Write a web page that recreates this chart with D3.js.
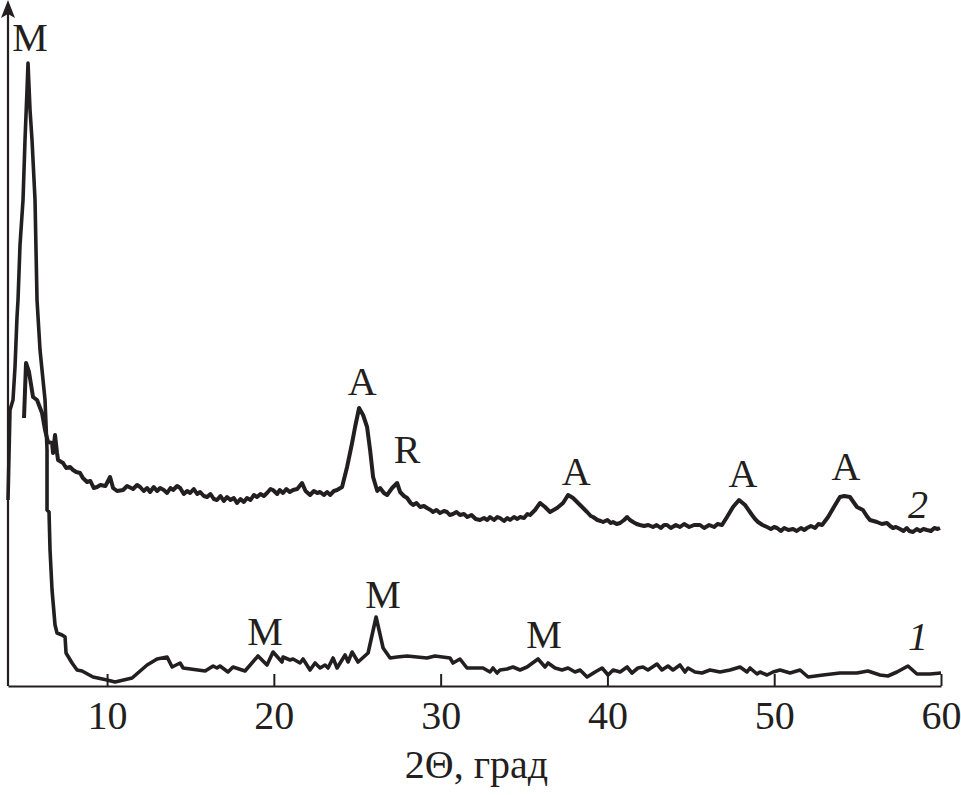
<!DOCTYPE html>
<html><head><meta charset="utf-8">
<script src="https://cdn.jsdelivr.net/npm/d3@7"></script>
<style>
html,body{margin:0;padding:0;background:#fff;}
svg{display:block;}
text{font-family:"Liberation Serif","Times New Roman",serif;fill:#231f20;}
</style></head>
<body>
<svg id="chart" width="961" height="795"></svg>
<script>
// 2Θ (degrees) for curve 1
const theta1 = [4.06,4.18,4.36,4.48,4.60,4.66,4.78,4.96,5.08,5.20,5.26,5.38,5.50,5.68,5.80,5.98,6.28,6.40,6.40,6.52,6.58,6.70,6.88,7.00,7.30,7.48,7.54,7.90,8.20,8.50,9.16,10.00,10.48,11.50,12.40,13.00,13.60,13.90,14.38,14.56,15.88,16.36,16.59,16.77,17.25,17.55,18.27,19.05,19.59,19.95,20.49,20.55,20.97,21.15,21.57,21.75,22.17,22.47,22.77,23.07,23.25,23.55,23.79,24.27,24.45,24.69,25.05,25.65,26.13,26.55,26.97,27.39,27.99,28.59,29.18,29.66,30.56,30.74,31.16,31.58,32.54,32.96,33.14,33.38,33.56,33.98,34.34,34.76,35.18,35.84,36.26,36.44,36.86,37.28,37.64,38.06,38.36,38.78,39.26,39.68,40.04,40.34,40.76,41.18,41.47,41.83,42.13,42.43,42.97,43.27,43.63,43.93,44.35,44.65,44.83,45.25,45.67,46.15,46.75,47.35,47.95,48.37,48.55,48.97,49.15,49.57,49.93,50.35,50.95,51.55,52.03,52.93,53.94,54.96,55.62,56.34,56.82,57.36,58.02,58.56,59.34,60.00];
// intensity (a.u.) for curve 1
const intensity1 = [186,276,286,319,369,386,441,486,546,596,623,576,546,486,386,336,286,236,176,174,136,96,61,53,51,49,33,23,16,15,9,6,4,8,21,27,29,19,23,18,15,20,18,20,14,19,15,30,21,34,24,29,26,27,23,27,16,23,18,21,18,28,18,31,24,34,24,33,69,38,28,29,30,29,28,30,28,23,27,18,18,14,18,13,16,17,19,16,19,27,19,23,18,16,18,14,16,9,14,18,11,16,14,19,13,18,19,16,22,16,20,16,21,14,18,14,13,16,14,16,19,14,18,12,14,11,14,16,13,16,9,11,13,13,15,11,10,14,20,12,12,13];
// 2Θ (degrees) for curve 2
const theta2 = [5.02,5.14,5.32,5.56,5.80,6.10,6.28,6.46,6.70,6.76,6.88,7.00,7.06,7.36,7.55,7.78,7.96,8.15,8.38,8.55,8.80,9.00,9.20,9.40,9.60,9.90,10.18,10.36,10.60,10.96,11.20,11.56,11.80,11.98,12.20,12.40,12.58,12.80,13.00,13.18,13.40,13.60,13.80,13.96,14.20,14.38,14.60,14.80,14.98,15.20,15.40,15.58,15.80,16.00,16.20,16.40,16.59,16.80,17.00,17.19,17.40,17.60,17.79,18.00,18.20,18.39,18.60,18.80,18.99,19.20,19.40,19.59,19.80,19.95,20.20,20.35,20.55,20.75,20.95,21.15,21.40,21.69,21.90,22.17,22.40,22.60,22.77,23.00,23.20,23.37,23.60,23.79,24.09,24.39,24.69,24.87,25.11,25.35,25.59,25.77,25.95,26.20,26.37,26.60,26.79,27.09,27.39,27.57,27.80,27.99,28.20,28.35,28.55,28.77,29.00,29.18,29.40,29.54,29.75,29.96,30.20,30.38,30.55,30.74,30.95,31.16,31.40,31.60,31.85,32.10,32.36,32.60,32.80,32.96,33.20,33.40,33.56,33.80,34.00,34.16,34.40,34.60,34.76,35.00,35.20,35.36,35.66,35.96,36.26,36.56,36.98,37.34,37.64,37.94,38.36,38.60,38.78,39.00,39.14,39.40,39.60,39.74,40.00,40.20,40.34,40.55,40.76,41.00,41.18,41.35,41.54,41.75,41.95,42.20,42.45,42.73,42.95,43.20,43.40,43.57,43.80,44.10,44.35,44.60,44.90,45.20,45.55,45.80,46.10,46.40,46.60,46.87,47.17,47.53,47.89,48.25,48.67,48.85,49.03,49.30,49.57,49.80,50.00,50.17,50.40,50.60,50.85,51.13,51.35,51.60,51.80,51.97,52.20,52.45,52.65,52.87,53.23,53.65,53.94,54.20,54.54,54.96,55.32,55.55,55.74,55.95,56.16,56.45,56.76,56.95,57.12,57.30,57.54,57.75,57.95,58.10,58.32,58.55,58.75,58.95,59.16,59.40,59.60,59.80,59.94];
// intensity (a.u.) for curve 2
const intensity2 = [268,323,314,289,286,273,256,244,243,233,251,233,226,223,218,219,216,214,213,208,204,205,198,199,201,200,209,198,195,196,200,197,201,199,195,198,194,199,195,198,196,193,198,196,200,198,192,195,193,197,192,194,190,189,192,187,186,190,185,189,186,188,183,187,184,188,186,191,189,192,190,193,197,196,192,196,193,197,194,196,197,203,195,191,195,193,194,191,194,191,195,196,199,219,243,259,278,271,259,236,209,195,198,193,191,198,203,194,190,188,183,181,183,179,180,178,176,174,176,173,175,174,171,172,174,171,172,169,171,167,166,168,166,169,166,169,168,165,168,166,169,167,169,168,172,171,176,183,179,174,178,183,191,188,181,177,174,170,169,166,165,164,166,163,164,162,163,166,169,166,164,162,161,160,161,159,161,158,161,161,158,161,159,162,159,161,161,158,161,159,162,161,169,179,186,181,171,167,164,161,159,157,159,158,155,158,156,157,155,158,156,158,160,158,162,161,169,181,189,190,189,179,176,170,166,165,164,162,163,160,158,159,157,155,158,155,154,157,155,157,156,155,158,157,158];

// x-axis ticks
const xTicks = [10,20,30,40,50,60];
const xTitle = "2\u0398, \u0433\u0440\u0430\u0434";

// peak annotations
const labelText = ["M","A","R","A","A","A","2","M","M","M","1"];
const labelTheta = [5.38,25.29,27.99,38.12,48.13,54.30,58.62,19.47,26.55,36.20,58.62];
const labelInt = [635,291,223,201,199,206,168,41,78,38,36];
const labelItalic = [false,false,false,false,false,false,true,false,false,false,true];

const svg = d3.select("#chart");
const x = d3.scaleLinear().domain([4.06, 60]).range([8, 941]);
const y = d3.scaleLinear().domain([0, 686]).range([686, 0]);
const ink = "#231f20";

// x axis
const xAxis = d3.axisBottom(x).tickValues(xTicks).tickFormat(d3.format("d"))
  .tickSizeInner(-12).tickSizeOuter(0).tickPadding(15);
const gx = svg.append("g").attr("transform", `translate(0,${y(0)})`).call(xAxis);
gx.select(".domain").attr("stroke", ink).attr("stroke-width", 2.2);
gx.selectAll(".tick line").attr("stroke", ink).attr("stroke-width", 2);
gx.selectAll(".tick text").attr("font-size", 40).attr("font-family", "Liberation Serif").attr("fill", ink);

// y axis with arrow
const yTop = y.range()[1];
svg.append("line").attr("x1", x.range()[0]).attr("x2", x.range()[0])
  .attr("y1", y(0)).attr("y2", yTop + 10).attr("stroke", ink).attr("stroke-width", 2.2);
svg.append("path")
  .attr("d", `M${x.range()[0]},${yTop} L${x.range()[0]-7},${yTop+18} L${x.range()[0]},${yTop+14} L${x.range()[0]+7},${yTop+18} Z`)
  .attr("fill", ink);

// curves
const line = d3.line().x(d => x(d[0])).y(d => y(d[1]));
const c1 = theta1.map((t, i) => [t, intensity1[i]]);
const c2 = theta2.map((t, i) => [t, intensity2[i]]);
svg.append("path").datum(c1).attr("d", line).attr("fill", "none")
  .attr("stroke", ink).attr("stroke-width", 3.6).attr("stroke-linejoin", "round");
svg.append("path").datum(c2).attr("d", line).attr("fill", "none")
  .attr("stroke", ink).attr("stroke-width", 4).attr("stroke-linejoin", "round");

// annotations
svg.selectAll("text.lab").data(labelText).enter().append("text")
  .attr("class", "lab")
  .attr("x", (d, i) => x(labelTheta[i]))
  .attr("y", (d, i) => y(labelInt[i]))
  .attr("text-anchor", "middle")
  .attr("font-size", 40)
  .attr("font-style", (d, i) => labelItalic[i] ? "italic" : "normal")
  .text(d => d);

// axis title
svg.append("text").attr("x", (x.range()[0] + x.range()[1]) / 2 + 2).attr("y", 778)
  .attr("text-anchor", "middle").attr("font-size", 40).text(xTitle);
</script>
</body></html>
